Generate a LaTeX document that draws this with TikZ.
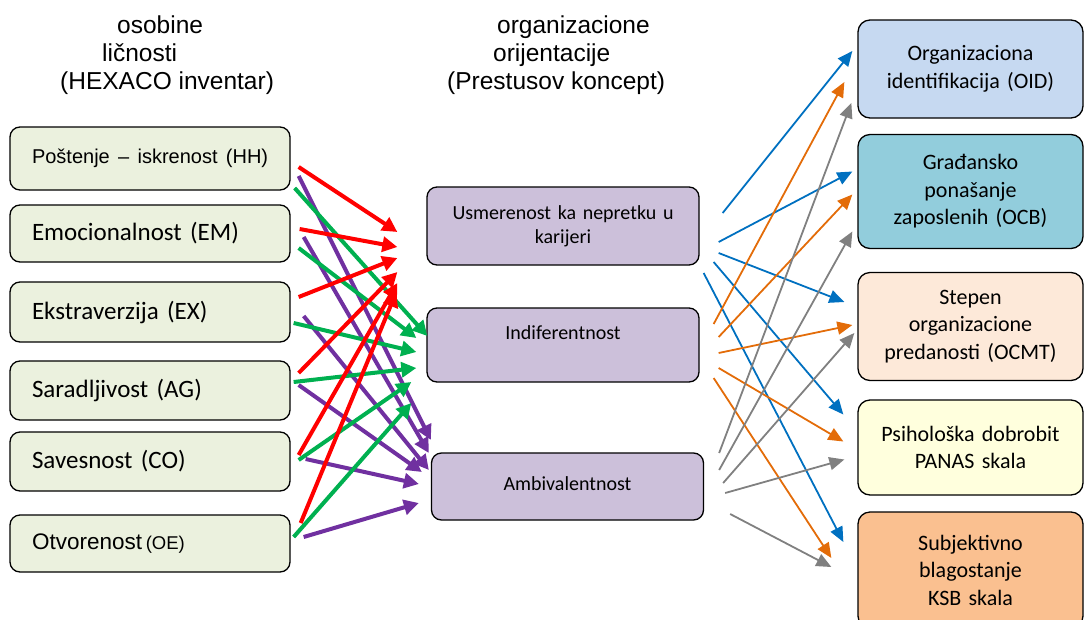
\documentclass[tikz,border=0pt]{standalone}
\usepackage{fontspec}
\setmainfont{Carlito}
\newfontfamily\arialfont{Liberation Sans}
\usetikzlibrary{positioning, arrows.meta}

\definecolor{lgreen}{HTML}{EBF1DE}
\definecolor{lilac}{HTML}{CCC0DA}
\definecolor{oidblue}{HTML}{C6D9F1}
\definecolor{ocbteal}{HTML}{92CDDC}
\definecolor{ocmtpeach}{HTML}{FDE9D9}
\definecolor{panasyellow}{HTML}{FFFFDD}
\definecolor{ksborange}{HTML}{FAC090}
\definecolor{ared}{HTML}{FF0000}
\definecolor{agreen}{HTML}{00B050}
\definecolor{apurple}{HTML}{7030A0}
\definecolor{ablue}{HTML}{0070C0}
\definecolor{aorange}{HTML}{E36C09}
\definecolor{agray}{HTML}{808080}

\begin{document}
\begin{tikzpicture}[x=1pt, y=-1pt,
  lbox/.style={draw, rounded corners=10pt, fill=lgreen, line width=1.3pt, minimum width=280pt,
               text width=236pt, inner xsep=22pt, align=left, font=\fontsize{25}{30}\selectfont},
  mbox/.style={draw, rounded corners=10pt, fill=lilac, line width=1.3pt, minimum width=272pt,
               text width=250pt, align=center, font=\fontsize{20}{24}\selectfont},
  rbox/.style={draw, rounded corners=12pt, line width=1.3pt, minimum width=225pt,
               text width=210pt, align=center, font=\fontsize{22}{27.5}\selectfont},
  head/.style={inner sep=0pt, align=left, font=\arialfont\fontsize{24.5}{28}\selectfont},
  larrow/.style={line width=4pt, -{Triangle[length=15pt,width=15pt]}},
  rarrow/.style={line width=1.8pt, -{Triangle[length=15pt,width=13pt]}}]
\useasboundingbox (0,0) rectangle (1085,619);

% headings
\node[head, anchor=west](hpers) at (60,55){\hspace*{57pt}osobine\\\hspace*{42pt}ličnosti\\(HEXACO inventar)};
\node[head, anchor=west](horg)  at (447,55){\hspace*{50pt}organizacione\\\hspace*{46pt}orijentacije\\(Prestusov koncept)};

% HEXACO
\node[lbox, minimum height=63pt](hh) at (150,158.5){\mbox{\arialfont\fontsize{20}{24}\selectfont Poštenje – iskrenost (HH)}};
\node[lbox, minimum height=57pt, below of = hh, node distance=75pt](em){Emocionalnost (EM)};
\node[lbox, minimum height=60pt, below of = em, node distance=78.5pt](ex){Ekstraverzija (EX)};
\node[lbox, minimum height=59pt, below of = ex, node distance=78.5pt](ag){Saradljivost (AG)};
\node[lbox, minimum height=59pt, below of = ag, node distance=71pt](co){Savesnost (CO)};
\node[lbox, minimum height=57pt, below of = co, node distance=82pt](oe){\mbox{\arialfont\fontsize{22.5}{27}\selectfont Otvorenost\,{\fontsize{18.5}{22}\selectfont(OE)}}};

% orijentacije
\node[mbox, minimum height=78pt](usm) at (563,226){Usmerenost ka nepretku u\\karijeri};
\node[mbox, minimum height=74pt, below of = usm, node distance=119pt](ind){Indiferentnost\\\mbox{}};
\node[mbox, minimum height=67pt](amb) at (567.5,486.5){\raisebox{6pt}{Ambivalentnost}};

% ishodi
\node[rbox, fill=oidblue,     minimum height=98pt](oid) at (970.5,69){Organizaciona\\identifikacija (OID)};
\node[rbox, fill=ocbteal,     minimum height=114pt, below of = oid,  node distance=122.5pt](ocb){Građansko\\ponašanje\\zaposlenih (OCB)};
\node[rbox, fill=ocmtpeach,   minimum height=108pt, below of = ocb,  node distance=135pt](ocmt){Stepen\\organizacione\\predanosti (OCMT)};
\node[rbox, fill=panasyellow, minimum height=95pt,  below of = ocmt, node distance=121pt](panas){Psihološka dobrobit\\PANAS skala};
\node[rbox, fill=ksborange,   minimum height=116pt, below of = panas, node distance=122.5pt](ksb){Subjektivno\\blagostanje\\KSB skala};

% HEXACO -> orijentacije
\draw ([shift={(8,8.5)}]hh.east)   edge[larrow, ared]    ([shift={(-29,6)}]usm.west)
      ([shift={(8,17.5)}]hh.east)  edge[larrow, apurple] ([shift={(0,-46.5)}]amb.west)
      ([shift={(4,29.5)}]hh.east)  edge[larrow, agreen]  ([shift={(1,-9)}]ind.west);
\draw ([shift={(9,-4.5)}]em.east)  edge[larrow, ared]    ([shift={(-29,21)}]usm.west)
      ([shift={(13,3.5)}]em.east)  edge[larrow, apurple] ([shift={(-2,-33.5)}]amb.west)
      ([shift={(8,14.5)}]em.east)  edge[larrow, agreen]  ([shift={(-10,-7)}]ind.west);
\draw ([shift={(8,-15)}]ex.east)   edge[larrow, ared]    ([shift={(-29,32)}]usm.west)
      ([shift={(13,4)}]ex.east)    edge[larrow, apurple] ([shift={(-2,-16.5)}]amb.west)
      ([shift={(3,11)}]ex.east)    edge[larrow, agreen]  ([shift={(-10,7)}]ind.west);
\draw ([shift={(8,-17.5)}]ag.east) edge[larrow, ared]    ([shift={(-29,46)}]usm.west)
      ([shift={(8,-5.5)}]ag.east)  edge[larrow, apurple] ([shift={(-9,-14.5)}]amb.west)
      ([shift={(3,-8.5)}]ag.east)  edge[larrow, agreen]  ([shift={(-10,23)}]ind.west);
\draw ([shift={(8,-6.5)}]co.east)  edge[larrow, ared]    ([shift={(-29,57)}]usm.west)
      ([shift={(15,-2.5)}]co.east) edge[larrow, apurple] ([shift={(-12,-2.5)}]amb.west)
      ([shift={(8,-1.5)}]co.east)  edge[larrow, agreen]  ([shift={(-15,37)}]ind.west);
\draw ([shift={(10,-20.5)}]oe.east) edge[larrow, ared]   ([shift={(-30,66)}]usm.west)
      ([shift={(13,-6.5)}]oe.east) edge[larrow, apurple] ([shift={(-12,16.5)}]amb.west)
      ([shift={(3,-6.5)}]oe.east)  edge[larrow, agreen]  ([shift={(-15,58)}]ind.west);

% orijentacije -> ishodi
\draw ([shift={(23,-13)}]usm.east) edge[rarrow, ablue] ([shift={(-5,-18)}]oid.west)
      ([shift={(19,16)}]usm.east)  edge[rarrow, ablue] ([shift={(-5,-20)}]ocb.west)
      ([shift={(19,27)}]usm.east)  edge[rarrow, ablue] ([shift={(-13,-24.5)}]ocmt.west)
      ([shift={(14,36)}]usm.east)  edge[rarrow, ablue] ([shift={(-14,-33)}]panas.west)
      ([shift={(4,47)}]usm.east)   edge[rarrow, ablue] ([shift={(-14,-28)}]ksb.west);
\draw ([shift={(14,-21)}]ind.east) edge[rarrow, aorange] ([shift={(-13,13)}]oid.west)
      ([shift={(19,-8)}]ind.east)  edge[rarrow, aorange] ([shift={(-5,3)}]ocb.west)
      ([shift={(19,8)}]ind.east)   edge[rarrow, aorange] ([shift={(-5,-1.5)}]ocmt.west)
      ([shift={(19,23)}]ind.east)  edge[rarrow, aorange] ([shift={(-14,-6)}]panas.west)
      ([shift={(14,33)}]ind.east)  edge[rarrow, aorange] ([shift={(-26,-12)}]ksb.west);
\draw ([shift={(15,-33.5)}]amb.east) edge[rarrow, agray] ([shift={(-6,34)}]oid.west)
      ([shift={(15,-16.5)}]amb.east) edge[rarrow, agray] ([shift={(-5,40)}]ocb.west)
      ([shift={(19,-3.5)}]amb.east)  edge[rarrow, agray] ([shift={(-3,6.5)}]ocmt.west)
      ([shift={(21,6.5)}]amb.east)   edge[rarrow, agray] ([shift={(-13,12)}]panas.west)
      ([shift={(26,27.5)}]amb.east)  edge[rarrow, agray] ([shift={(-26,-3)}]ksb.west);
\end{tikzpicture}
\end{document}
